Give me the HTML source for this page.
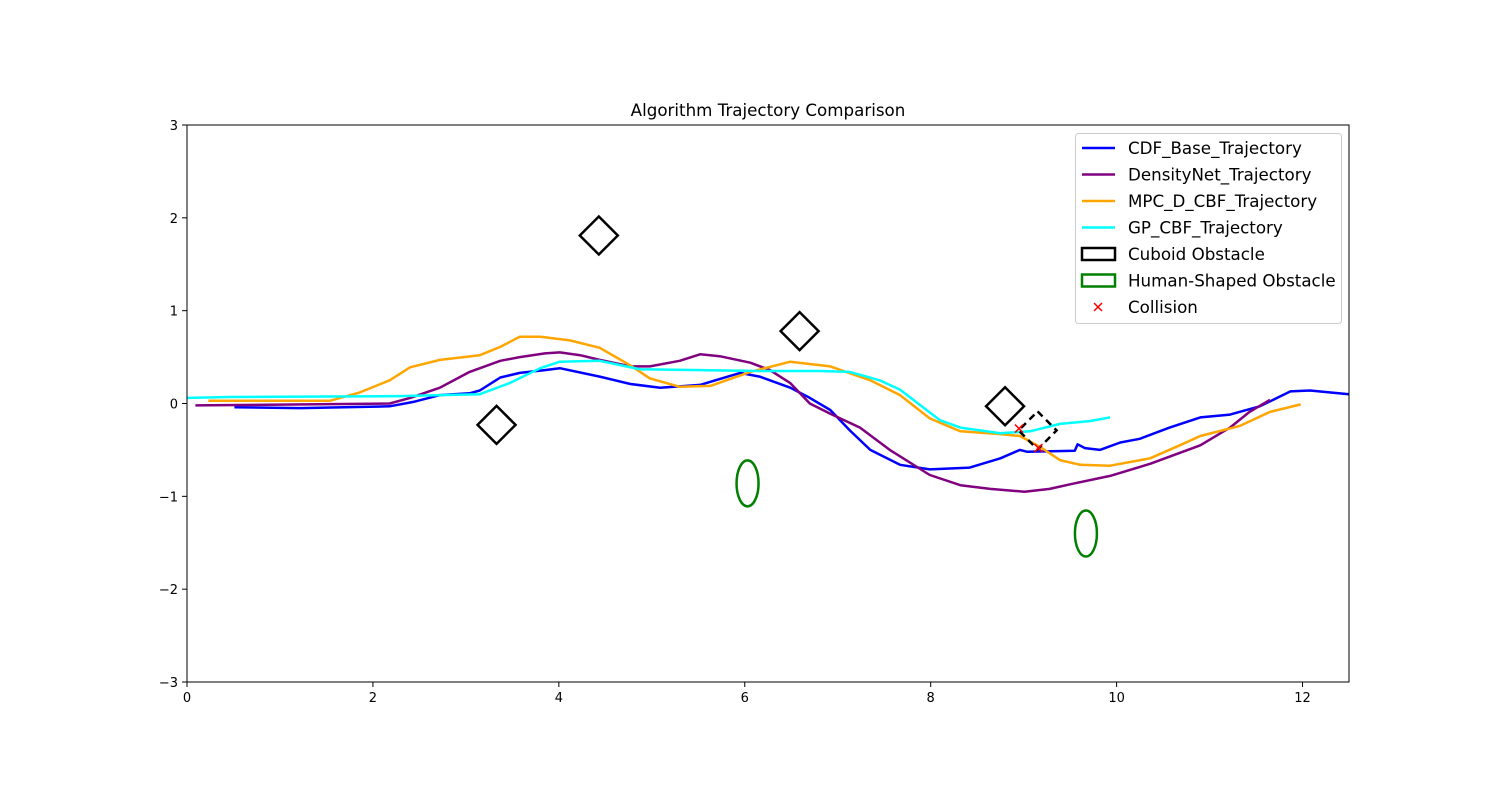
<!DOCTYPE html>
<html><head><meta charset="utf-8"><style>
body{margin:0;background:#fff;width:1499px;height:799px;overflow:hidden}
svg text{font-family:"DejaVu Sans","Liberation Sans",sans-serif;fill:#000}
</style></head><body>
<svg id="chart" width="1499" height="799"></svg>
<script>
const xTicks=[0,2,4,6,8,10,12];
const yTicks=[3,2,1,0,-1,-2,-3];
const cdfX=[0.51,1.22,2.18,2.45,2.72,3.04,3.15,3.37,3.58,3.85,4.01,4.44,4.77,5.09,5.52,5.95,6.16,6.49,6.70,6.92,7.13,7.35,7.67,7.99,8.42,8.75,8.96,9.04,9.55,9.58,9.66,9.82,10.04,10.25,10.57,10.90,11.22,11.54,11.87,12.08,12.5];
const cdfY=[-0.04,-0.05,-0.03,0.02,0.09,0.11,0.14,0.28,0.33,0.36,0.38,0.29,0.21,0.17,0.20,0.33,0.29,0.17,0.06,-0.07,-0.29,-0.50,-0.66,-0.71,-0.69,-0.59,-0.50,-0.52,-0.51,-0.44,-0.48,-0.50,-0.42,-0.38,-0.26,-0.15,-0.12,-0.03,0.13,0.14,0.10];
const dnX=[0.09,2.18,2.40,2.72,3.04,3.37,3.58,3.85,4.01,4.23,4.44,4.77,4.98,5.30,5.52,5.73,6.06,6.27,6.49,6.70,6.92,7.24,7.56,7.99,8.32,8.64,9.01,9.28,9.50,9.93,10.36,10.90,11.22,11.43,11.65];
const dnY=[-0.02,0,0.06,0.17,0.34,0.46,0.50,0.54,0.55,0.52,0.47,0.40,0.40,0.46,0.53,0.51,0.44,0.36,0.22,0,-0.11,-0.26,-0.50,-0.77,-0.88,-0.92,-0.95,-0.92,-0.87,-0.78,-0.65,-0.45,-0.26,-0.09,0.04];
const mpcX=[0.23,1.54,1.86,2.18,2.40,2.72,3.15,3.37,3.58,3.80,4.12,4.44,4.77,4.98,5.30,5.63,6.06,6.49,6.92,7.35,7.67,7.99,8.32,8.75,8.96,9.18,9.39,9.61,9.93,10.36,10.68,10.90,11.33,11.65,11.98];
const mpcY=[0.03,0.03,0.12,0.25,0.39,0.47,0.52,0.61,0.72,0.72,0.68,0.60,0.41,0.27,0.18,0.19,0.34,0.45,0.40,0.25,0.09,-0.16,-0.30,-0.33,-0.35,-0.47,-0.61,-0.66,-0.67,-0.59,-0.45,-0.35,-0.24,-0.09,-0.01];
const gpX=[0,0.46,2.29,2.72,3.15,3.47,3.80,4.01,4.44,4.87,5.52,6.16,6.81,7.13,7.45,7.67,7.89,8.10,8.32,8.75,9.07,9.39,9.71,9.93];
const gpY=[0.06,0.07,0.08,0.09,0.10,0.22,0.38,0.45,0.46,0.37,0.36,0.35,0.35,0.34,0.25,0.15,-0.02,-0.18,-0.26,-0.32,-0.30,-0.22,-0.19,-0.15];
const cubX=[3.33,4.43,6.59,8.80,9.15];
const cubY=[-0.23,1.81,0.78,-0.03,-0.29];
const humX=[6.03,9.67];
const humY=[-0.86,-1.40];
const colX=[8.95,9.16];
const colY=[-0.27,-0.48];

const L=187,R=1349,T=125,B=682;
const sx=v=>L+(v-0)/12.5*(R-L);
const sy=v=>T+(3-v)/6*(B-T);
const svg=document.getElementById('chart');
const NS='http://www.w3.org/2000/svg';
function mk(t,a){const e=document.createElementNS(NS,t);for(const k in a)e.setAttribute(k,a[k]);svg.appendChild(e);return e;}

let t=mk('text',{x:768,y:116,'text-anchor':'middle','font-size':16.7});t.textContent='Algorithm Trajectory Comparison';



xTicks.forEach(v=>{const x=sx(v);
 const l=mk('line',{x1:x,x2:x,y1:B,y2:B+5,stroke:'#000'});
 
 
 const tx=mk('text',{x:x,y:B+20,'text-anchor':'middle','font-size':13});tx.textContent=v;
 
 });
yTicks.forEach(v=>{const y=sy(v);
 const l=mk('line',{x1:L-5,x2:L,y1:y,y2:y,stroke:'#000'});
 
 
 const tx=mk('text',{x:L-9,y:y+5,'text-anchor':'end','font-size':13});tx.textContent=v<0?'\u2212'+(-v):v;
 
 });

function line(xs,ys,c,name){const d=xs.map((x,i)=>(i?'L':'M')+sx(x).toFixed(1)+','+sy(ys[i]).toFixed(1)).join('');
 const p=mk('path',{d:d,fill:'none',stroke:c,'stroke-width':2.5,'stroke-linejoin':'round'});
 
 }
line(cdfX,cdfY,'#0000ff','cdf-base-trajectory');
line(dnX,dnY,'#800080','densitynet-trajectory');
line(mpcX,mpcY,'#ffa500','mpc-d-cbf-trajectory');
line(gpX,gpY,'#00ffff','gp-cbf-trajectory');

cubX.forEach((x,i)=>{const cx=sx(x),cy=sy(cubY[i]),r=19;
 const a={points:`${cx},${cy-r} ${cx+r},${cy} ${cx},${cy+r} ${cx-r},${cy}`,fill:'none',stroke:'#000','stroke-width':2.5};
 if(i===cubX.length-1)a['stroke-dasharray']='7,5';
 const p=mk('polygon',a);
 
 });
humX.forEach((x,i)=>{const e=mk('ellipse',{cx:sx(x),cy:sy(humY[i]),rx:11,ry:23,fill:'none',stroke:'#008000','stroke-width':2.5});
 
 });
colX.forEach((x,i)=>{const cx=sx(x),cy=sy(colY[i]);
 const p=mk('path',{d:`M${cx-4},${cy-4}L${cx+4},${cy+4}M${cx-4},${cy+4}L${cx+4},${cy-4}`,stroke:'#ff0000','stroke-width':1.5});
 
 });

const fr=mk('rect',{x:L,y:T,width:R-L,height:B-T,fill:'none',stroke:'#000','stroke-width':1});



const lg=mk('rect',{x:1075.5,y:133.5,width:266,height:190,rx:3,fill:'#fff','fill-opacity':0.8,stroke:'#ccc'});


const items=[['CDF_Base_Trajectory','line','#0000ff'],['DensityNet_Trajectory','line','#800080'],['MPC_D_CBF_Trajectory','line','#ffa500'],['GP_CBF_Trajectory','line','#00ffff'],['Cuboid Obstacle','rect','#000'],['Human-Shaped Obstacle','rect','#008000'],['Collision','x','#ff0000']];
items.forEach((it,i)=>{const y=148+i*26.5;
 let m;
 if(it[1]==='line')m=mk('line',{x1:1082,x2:1115,y1:y,y2:y,stroke:it[2],'stroke-width':2.5});
 else if(it[1]==='rect')m=mk('rect',{x:1082,y:y-6,width:33,height:12,fill:'none',stroke:it[2],'stroke-width':2.5});
 else m=mk('path',{d:`M1094,${y-4}L1102,${y+4}M1094,${y+4}L1102,${y-4}`,stroke:it[2],'stroke-width':1.5});
 
 
 const tx=mk('text',{x:1128,y:y+6,'font-size':16.7});tx.textContent=it[0];
 
 });
</script>
</body></html>
